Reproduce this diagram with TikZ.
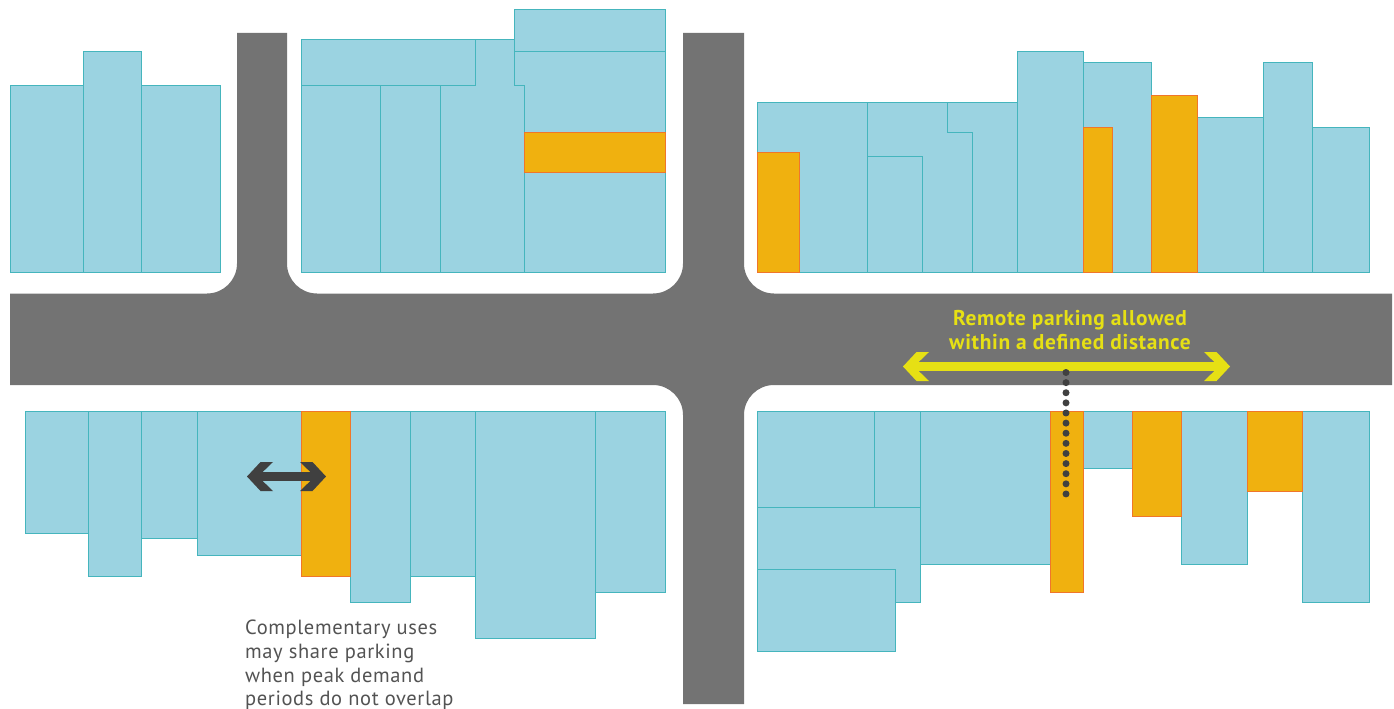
\documentclass[tikz,border=0pt]{standalone}
\usepackage{fontspec}
\setmainfont[LetterSpace=3]{PT Sans}
\definecolor{roadgrey}{HTML}{737373}
\definecolor{bldgblue}{HTML}{9BD3E1}
\definecolor{bldgline}{HTML}{45B5BD}
\definecolor{parkfill}{HTML}{F0B10F}
\definecolor{parkline}{HTML}{F0762A}
\definecolor{signyellow}{HTML}{E6E014}
\definecolor{inkgrey}{HTML}{404040}
\tikzset{
	bldg/.style={fill=bldgblue,draw=bldgline,line width=0.9pt,line join=miter},
	parklot/.style={fill=parkfill,draw=parkline,line width=0.9pt},
	roadway/.style={fill=roadgrey},
	reach/.style={line width=9pt,shorten <=6pt,shorten >=6pt},
	chevron/.pic={\fill (0,0) -- (13.5,-14.5) -- (26,-14.5) -- (11,0) -- (26,14.5) -- (13.5,14.5) -- cycle;}
}
\begin{document}
\begin{tikzpicture}[x=1pt,y=-1pt]
	\useasboundingbox (0,0) rectangle (1394,709);
	% streets
	\fill[roadway] (237,33) -- (287,33) [rounded corners=30pt] -- (287,293.5) -- (683,293.5) [sharp corners] -- (683,33) -- (744,33) [rounded corners=30pt] -- (744,293.5) [sharp corners] -- (1392,293.5) -- (1392,385) [rounded corners=30pt] -- (744,385) [sharp corners] -- (744,704) -- (683,704) [rounded corners=30pt] -- (683,385) [sharp corners] -- (10,385) -- (10,293.5) [rounded corners=30pt] -- (237,293.5) [sharp corners] -- cycle;
	% top row
	\foreach \xa/\ya/\xb/\yb in {10/85/83/272.3, 83/51/141/272.3, 141/85/220/272.3,
		301.3/85.3/380.3/272.3, 380.3/85.3/440.3/272.3, 301.3/39.3/475/85.3,
		524.7/172.7/665.7/272.3, 514.3/9.3/665.7/51.3,
		757.5/102.5/867/272.3, 867/156/922/272.3, 1017/51/1083/272.3,
		1083/62.5/1151/272.3, 1197/117.5/1263/272.3, 1263/62.5/1312/272.3,
		1312/127.5/1369/272.3}
		\draw[bldg] (\xa,\ya) rectangle (\xb,\yb);
	\draw[bldg] (475,39.3) -- (514.3,39.3) -- (514.3,85.3) -- (524.7,85.3) -- (524.7,272.3) -- (440.3,272.3) -- (440.3,85.3) -- (475,85.3) -- cycle;
	\draw[bldg] (514.3,51.3) -- (665.7,51.3) -- (665.7,132.7) -- (524.7,132.7) -- (524.7,85.3) -- (514.3,85.3) -- cycle;
	\draw[bldg] (867,102.5) -- (947,102.5) -- (947,132) -- (972,132) -- (972,272.3) -- (922,272.3) -- (922,156) -- (867,156) -- cycle;
	\draw[bldg] (947,102.5) -- (1017,102.5) -- (1017,272.3) -- (972,272.3) -- (972,132) -- (947,132) -- cycle;
	% bottom row
	\foreach \xa/\xb/\yb in {25/88/533, 88/141/576.5, 141/197.5/538.5, 197.5/301.5/555,
		350/410.5/602.5, 410.5/475/576.5, 475/595.5/638, 595.5/665.7/592,
		757.5/874/507.5, 874/920/507.5, 920/1050/564.5,
		1083/1132/468, 1181.5/1247.5/564.5, 1302.5/1369/602.5}
		\draw[bldg] (\xa,411.7) rectangle (\xb,\yb);
	\draw[bldg] (757.5,507.5) rectangle (920,602.5);
	\draw[bldg] (757.5,569.5) rectangle (895,651.5);
	% parking
	\foreach \xa/\ya/\xb/\yb in {524.7/132.7/665.7/172.7, 757.5/152.5/799/272.3,
		1083/127.5/1112/272.3, 1151/95/1197/272.3,
		301.5/411.7/350/576.5, 1050/411.7/1083/592.5, 1132/411.7/1181.5/516,
		1247.5/411.7/1302.5/491}
		\draw[parklot] (\xa,\ya) rectangle (\xb,\yb);
	% arrows
	\coordinate (remoteL) at (903,366.5);
	\coordinate (remoteR) at (1230,366.5);
	\coordinate (dotTop) at (1066,372.5);
	\coordinate (dotEnd) at (1066,494);
	\coordinate (shareL) at (247,476.5);
	\coordinate (shareR) at (326,476.5);
	\draw[reach,draw=signyellow] (remoteL) -- (remoteR);
	\pic[signyellow] at (remoteL) {chevron};
	\pic[signyellow,xscale=-1] at (remoteR) {chevron};
	\draw[inkgrey,line width=7pt,line cap=round,dash pattern=on 0pt off 10.12pt] (dotTop) -- (dotEnd);
	\draw[reach,draw=inkgrey] (shareL) -- (shareR);
	\pic[inkgrey] at (shareL) {chevron};
	\pic[inkgrey,xscale=-1] at (shareR) {chevron};
	% labels
	\node[text=signyellow,font=\fontsize{21.4}{24}\selectfont\bfseries,align=center] (remotelabel) at (1070,330) {Remote parking allowed\\within a defined distance};
	\node[text=inkgrey!90!white,font=\fontsize{20.5}{23.7}\selectfont,align=left,anchor=north west,inner sep=0pt] (sharelabel) at (245,620) {Complementary uses\\may share parking\\when peak demand\\periods do not overlap};
\end{tikzpicture}
\end{document}
